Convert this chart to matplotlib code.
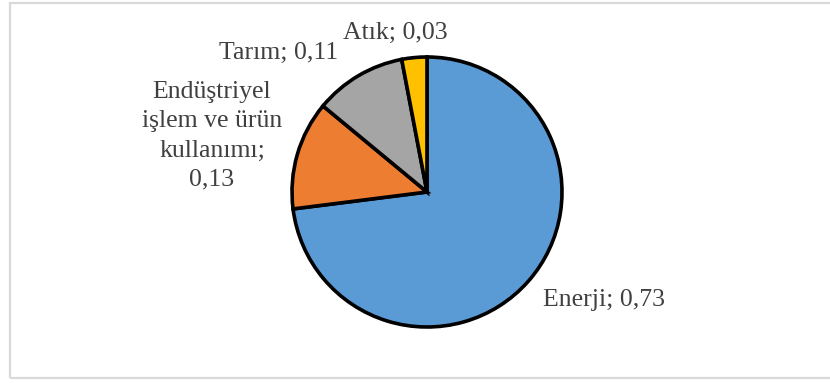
import matplotlib.pyplot as plt
from matplotlib.patches import Rectangle

# sector shares (greenhouse gas emissions)
labels = ['Enerji', 'Endüştriyel\nişlem ve ürün\nkullanımı', 'Tarım', 'Atık']
shares = [0.73, 0.13, 0.11, 0.03]
colors = ['#5b9bd5', '#ed7d31', '#a5a5a5', '#ffc000']

# where each data label sits (pixels, from top-left) and its alignment
label_xy = [(543, 300), (212, 136), (279, 53), (395, 33)]
label_ha = ['left', 'center', 'center', 'center']

plt.rcParams['font.family'] = ['Liberation Serif', 'DejaVu Serif']

W, H = 830, 383
fig = plt.figure(figsize=(W / 100, H / 100), dpi=100)
ax = fig.add_axes([0, 0, 1, 1])

# pie drawn in pixel units; y axis is flipped, so counterclock=True runs clockwise on screen
ax.pie(shares, colors=colors, startangle=-90, counterclock=True,
       center=(427, 192), radius=135, frame=True,
       wedgeprops=dict(edgecolor='black', linewidth=2.6))
ax.set_xlim(0, W)
ax.set_ylim(H, 0)
ax.set_aspect('auto')
ax.axis('off')

for lab, v, (x, y), ha in zip(labels, shares, label_xy, label_ha):
    sep = '\n' if '\n' in lab else ' '
    txt = lab + ';' + sep + ('%.2f' % v).replace('.', ',')
    ax.text(x, y, txt, ha=ha, va='center', fontsize=18.5, color='#404040',
            linespacing=1.42)

# light chart-area border (runs off the right edge)
fig.patches.append(Rectangle((10 / W, 1 - 378 / H), 1.2, (378 - 3) / H,
                             transform=fig.transFigure, fill=False,
                             edgecolor='#d9d9d9', linewidth=1.6))

fig.savefig('out.png', dpi=100)
